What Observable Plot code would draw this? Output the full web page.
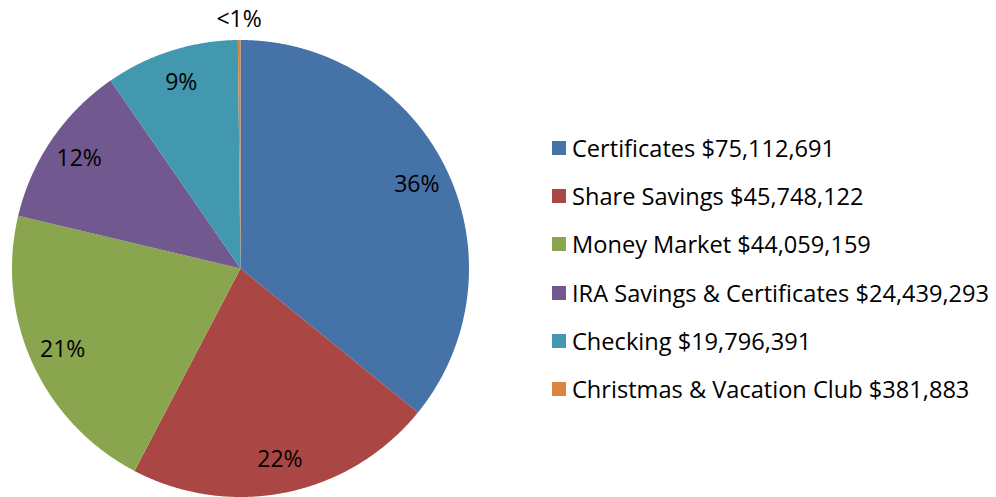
<!DOCTYPE html>
<html>
<head>
<meta charset="utf-8">
<script src="https://cdn.jsdelivr.net/npm/d3@7"></script>
<script src="https://cdn.jsdelivr.net/npm/@observablehq/plot@0.6"></script>
<style>
  html, body { margin: 0; padding: 0; background: #fff; }
  #wrap { position: relative; width: 996px; height: 497px; overflow: hidden; }
  #pie { position: absolute; left: 0; top: 0; }
  #legend { position: absolute; left: 552px; top: 124px; }
  #legend .lg-swatches { font-family: "Open Sans", sans-serif !important; font-size: 23.6px !important; color: #000 !important; margin: 0 !important; }
  #legend .lg-swatch { height: 48.2px !important; padding: 0 !important; margin: 0 !important; display: flex !important; align-items: center !important; }
  #legend .lg-swatch svg { margin-right: 6px !important; }
</style>
</head>
<body>
<div id="wrap">
  <div id="pie"></div>
  <div id="legend"></div>
</div>
<script>
const categories = ["Certificates", "Share Savings", "Money Market", "IRA Savings & Certificates", "Checking", "Christmas & Vacation Club"];
const amounts = [75112691, 45748122, 44059159, 24439293, 19796391, 381883];
const percentLabels = ["36%", "22%", "21%", "12%", "9%", "<1%"];
const colors = ["#4572A7", "#AA4643", "#89A54E", "#71588F", "#4198AF", "#DB843D"];

const fmt = d3.format("$,");
const legendLabels = categories.map((c, i) => `${c} ${fmt(amounts[i])}`);

const rows = categories.map((c, i) => ({category: c, amount: amounts[i], label: percentLabels[i], legend: legendLabels[i]}));
const arcs = d3.pie().value(d => d.amount).sort(null).startAngle(0).endAngle(2 * Math.PI)(rows);

// slice polygons (unit radius), angle measured clockwise from 12 o'clock
const points = [];
arcs.forEach(a => {
  const key = a.data.category;
  points.push({key, x: 0, y: 0});
  const n = Math.max(2, Math.ceil((a.endAngle - a.startAngle) / 0.005));
  for (let k = 0; k <= n; k++) {
    const t = a.startAngle + (a.endAngle - a.startAngle) * k / n;
    points.push({key, x: Math.sin(t), y: Math.cos(t)});
  }
  points.push({key, x: 0, y: 0});
});

// label positions: inside at 0.855 r, tiny slices outside
const labels = arcs.map(a => {
  const frac = (a.endAngle - a.startAngle) / (2 * Math.PI);
  const t = (a.startAngle + a.endAngle) / 2;
  const r = frac < 0.02 ? 1.09 : 0.855;
  return {label: a.data.label, x: r * Math.sin(t), y: r * Math.cos(t)};
});

const color = {domain: categories, range: colors};

const pie = Plot.plot({
  width: 996,
  height: 497,
  margin: 0,
  x: {domain: [-1, 1], range: [11.5, 468.5], axis: null},
  y: {domain: [-1, 1], range: [496.5, 39.5], axis: null},
  color,
  style: {fontFamily: "'Open Sans', sans-serif", background: "#fff"},
  marks: [
    Plot.line(points, {x: "x", y: "y", z: "key", fill: "key", stroke: null, curve: "linear"}),
    Plot.text(labels, {x: "x", y: "y", text: "label", fontSize: 23, fill: "#000"})
  ]
});
document.getElementById("pie").appendChild(pie);

const legend = Plot.legend({
  color: {type: "ordinal", domain: legendLabels, range: colors},
  legend: "swatches",
  columns: 1,
  swatchSize: 14,
  className: "lg",
  style: {fontFamily: "'Open Sans', sans-serif", fontSize: "23.6px", color: "#000"}
});
document.getElementById("legend").appendChild(legend);
</script>
</body>
</html>
